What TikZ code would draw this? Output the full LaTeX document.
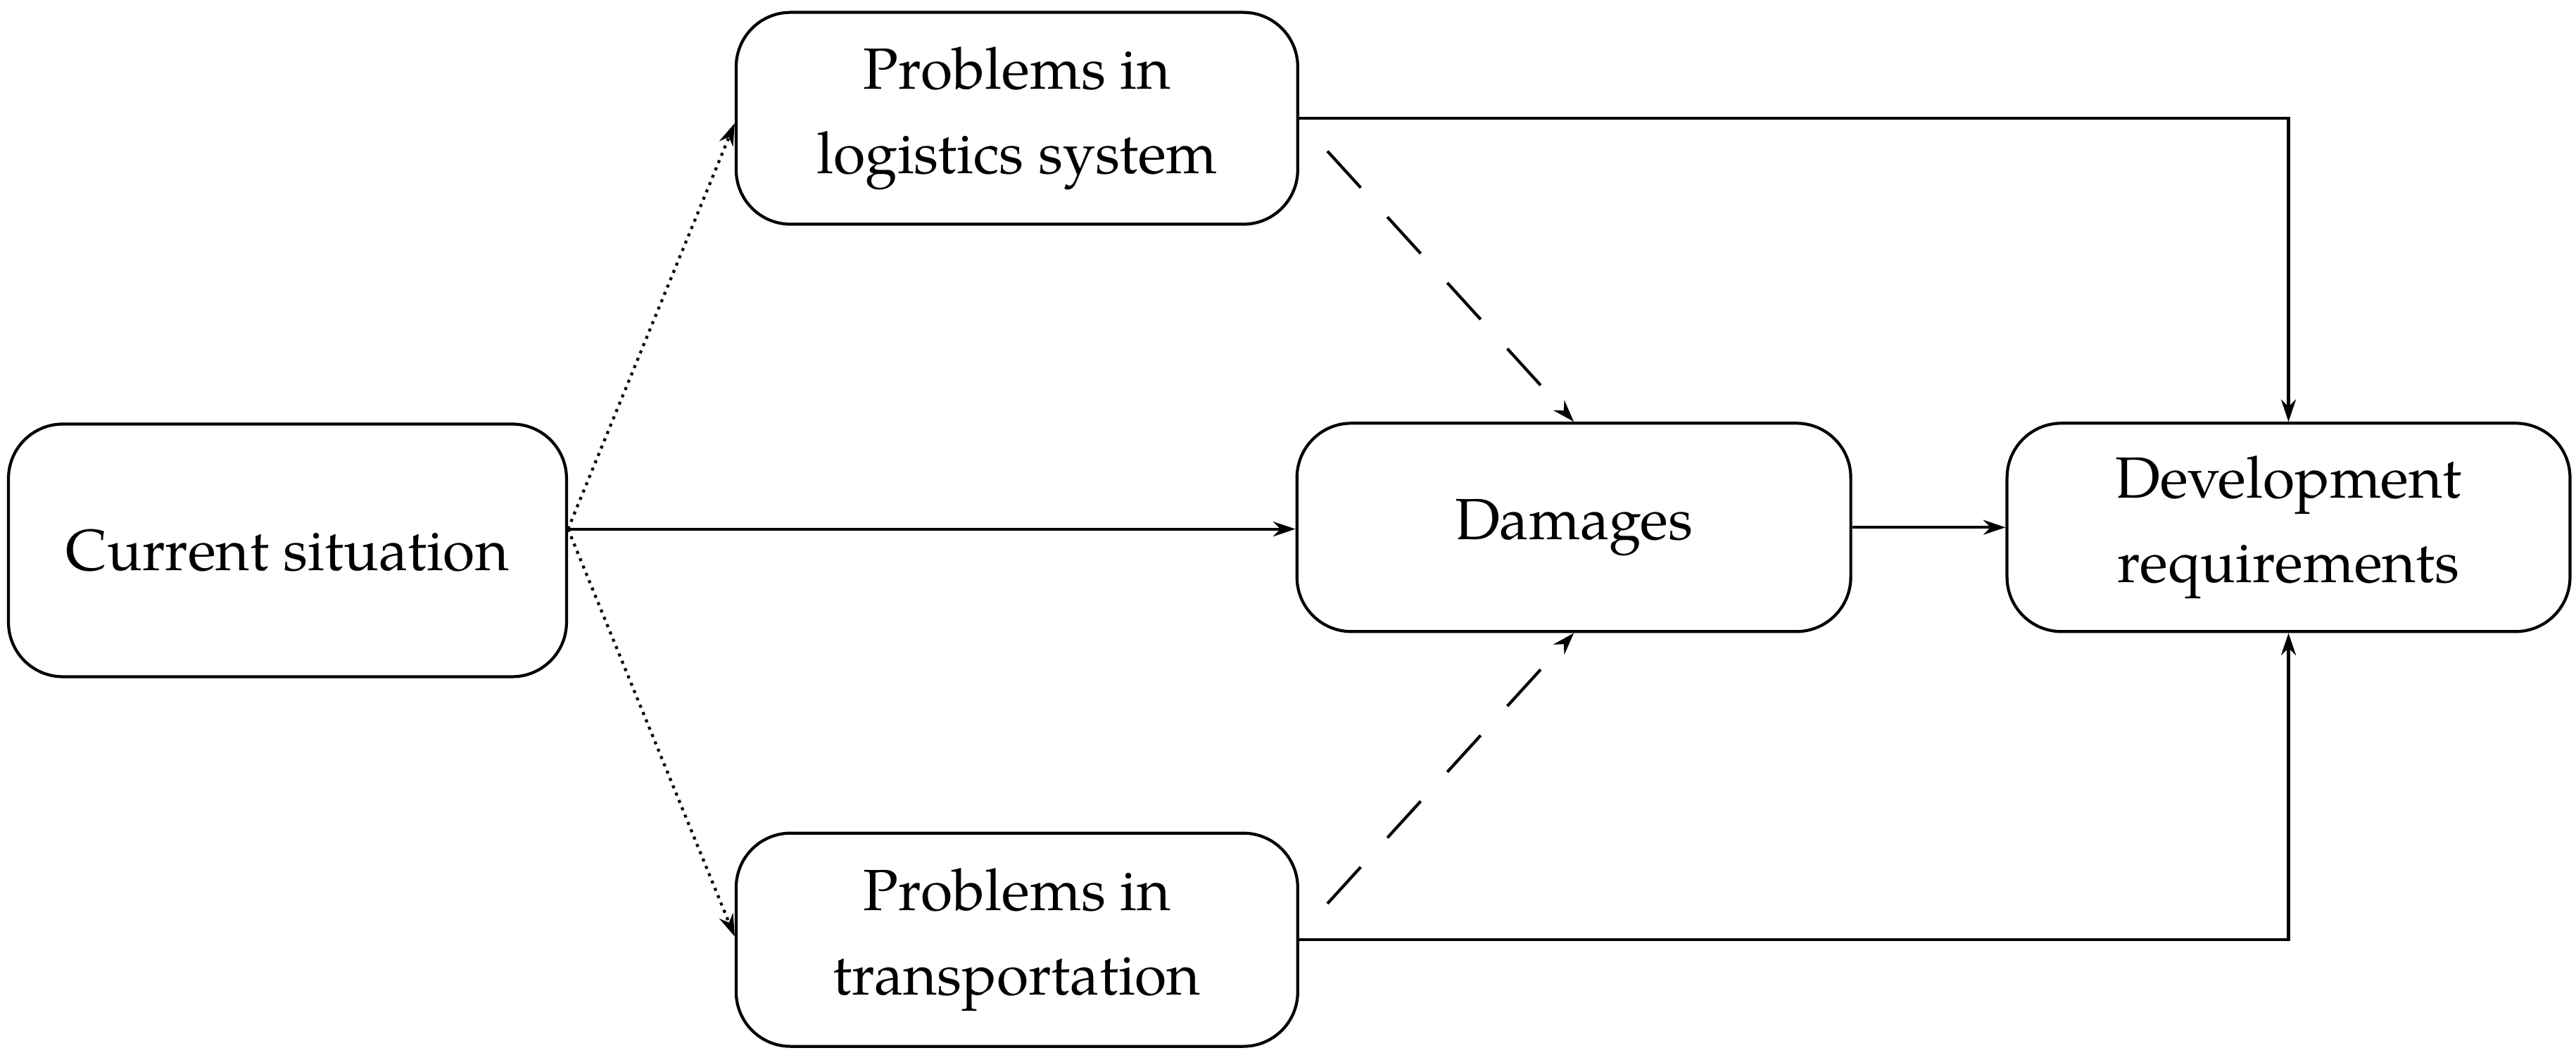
\documentclass[tikz,border=0pt]{standalone}
\usepackage{fontspec}
\setmainfont{TeX Gyre Pagella}
\usetikzlibrary{arrows.meta}
\begin{document}
\begin{tikzpicture}[x=0.02334cm,y=-0.02334cm,
  box/.style={draw,line width=1.2pt,rounded corners=22pt,align=center,inner sep=0pt,font=\fontsize{23.5}{34}\selectfont},
  arr/.style={line width=1.2pt,-{Stealth[length=9pt,width=6pt]}}]
\useasboundingbox (0,0) rectangle (1568,645);
\node[box,minimum width=7.93cm,minimum height=3.59cm] (cur) at (175,335) {Current situation};
\node[box,minimum width=7.98cm,minimum height=3.01cm] (log) at (619,72) {Problems in\\logistics system};
\node[box,minimum width=7.87cm,minimum height=2.96cm] (dam) at (958,321) {Damages};
\node[box,minimum width=8.0cm,minimum height=2.96cm] (dev) at (1393,321) {Development\\requirements};
\node[box,minimum width=7.98cm,minimum height=3.03cm] (tra) at (619,572) {Problems in\\transportation};
\coordinate (o) at (cur.east |- 0,322);
\draw[arr] (o) -- (dam.west |- o);
\draw[arr,dotted] (o) -- (log.west |- 0,75);
\draw[arr,dotted] (o) -- (tra.west |- 0,570);
\draw[arr,dash pattern=on 20pt off 16pt] (808,92) -- (dam.north);
\draw[arr,dash pattern=on 20pt off 16pt] (808,550) -- (dam.south);
\draw[arr] (log.east) -| (dev.north);
\draw[arr] (tra.east) -| (dev.south);
\draw[arr] (dam.east) -- (dev.west);
\end{tikzpicture}
\end{document}
